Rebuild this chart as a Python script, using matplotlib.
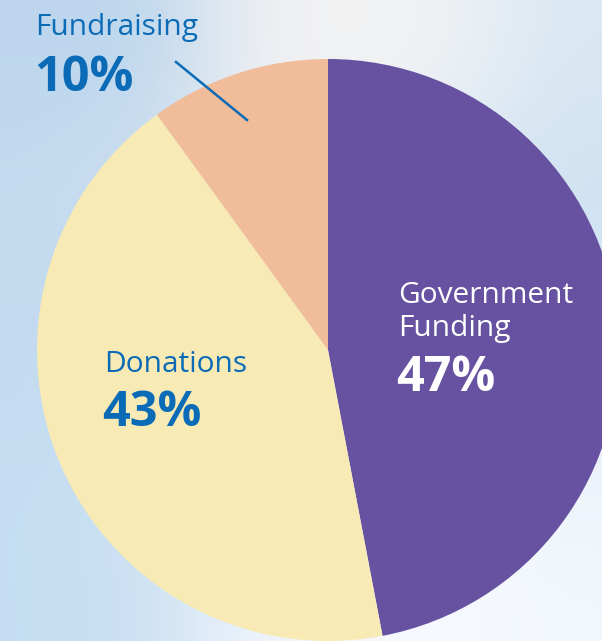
import matplotlib
matplotlib.use("Agg")
import matplotlib.pyplot as plt
import numpy as np

# funding split
labels = ["Government\nFunding", "Donations", "Fundraising"]
values = [47, 43, 10]
colors = ["#6652a0", "#f7eab4", "#f0bc9a"]

W, H = 602, 641
fig = plt.figure(figsize=(W / 100, H / 100), dpi=100)
ax = fig.add_axes([0, 0, 1, 1])

# sky background, rough cloud colours (rows top -> bottom, cols left -> right)
sky = np.array([
    [[0.74, 0.84, 0.93], [0.74, 0.84, 0.93], [0.94, 0.94, 0.95], [0.95, 0.95, 0.95], [0.94, 0.95, 0.96], [0.86, 0.91, 0.95]],
    [[0.77, 0.86, 0.94], [0.82, 0.88, 0.94], [0.92, 0.94, 0.96], [0.94, 0.95, 0.96], [0.86, 0.91, 0.96], [0.80, 0.88, 0.95]],
    [[0.76, 0.85, 0.94], [0.80, 0.87, 0.94], [0.88, 0.92, 0.96], [0.90, 0.93, 0.97], [0.88, 0.92, 0.97], [0.86, 0.91, 0.96]],
    [[0.77, 0.87, 0.95], [0.82, 0.89, 0.95], [0.90, 0.93, 0.97], [0.93, 0.95, 0.98], [0.94, 0.96, 0.98], [0.92, 0.95, 0.98]],
    [[0.77, 0.87, 0.95], [0.80, 0.88, 0.95], [0.94, 0.96, 0.99], [0.96, 0.97, 0.99], [0.97, 0.98, 0.99], [0.95, 0.97, 0.99]],
])
ax.imshow(sky, extent=(0, W, 0, H), interpolation="bicubic", aspect="auto", zorder=0)

cx, cy, r = 328, H - 350, 291
ax.pie(values, colors=colors, startangle=90, counterclock=False,
       center=(cx, cy), radius=r, frame=True,
       wedgeprops=dict(linewidth=0))
ax.set_xlim(0, W)
ax.set_ylim(0, H)
ax.axis("off")

blue = "#0b6bb6"
font = ["Open Sans", "DejaVu Sans"]
lab_size = 21.5
pct_size = 35

# Government
ax.text(398, H - 303, "Government", color="white", fontsize=lab_size, family=font, ha="left", va="baseline")
ax.text(398, H - 336, "Funding", color="white", fontsize=lab_size, family=font, ha="left", va="baseline")
ax.text(396, H - 391, "47%", color="white", fontsize=pct_size, fontweight="bold", family=font, ha="left", va="baseline")

# Donations
ax.text(104, H - 372, "Donations", color=blue, fontsize=lab_size, family=font, ha="left", va="baseline")
ax.text(102, H - 426, "43%", color=blue, fontsize=pct_size, fontweight="bold", family=font, ha="left", va="baseline")

# Fundraising with leader line
ax.text(35, H - 35, "Fundraising", color=blue, fontsize=lab_size, family=font, ha="left", va="baseline")
ax.text(34, H - 91, "10%", color=blue, fontsize=pct_size, fontweight="bold", family=font, ha="left", va="baseline")
ax.plot([176, 247], [H - 62, H - 120], color=blue, linewidth=1.8, zorder=5)

fig.savefig("out.png", dpi=100)
